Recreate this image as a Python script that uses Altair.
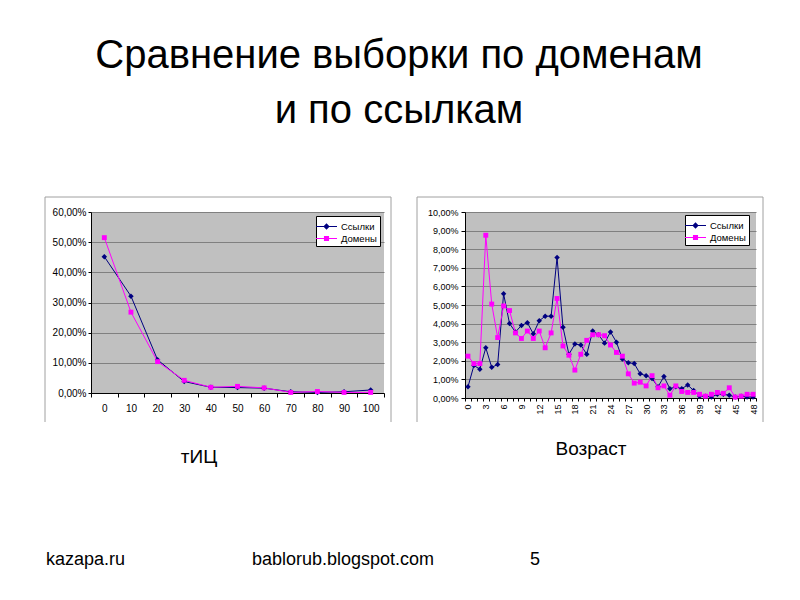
import altair as alt
import pandas as pd

# ---------------- data ----------------
title_lines = ["Сравнение выборки по доменам", "и по ссылкам"]
series_names = ["Ссылки", "Домены"]

tic_categories = [0, 10, 20, 30, 40, 50, 60, 70, 80, 90, 100]
tic_links = [45.2, 32.1, 11.0, 3.8, 1.9, 1.8, 1.6, 0.4, 0.2, 0.4, 1.0]
tic_domains = [51.5, 26.8, 10.4, 4.2, 1.9, 2.2, 1.7, 0.2, 0.5, 0.2, 0.2]

age_categories = list(range(49))
age_links = [0.6, 1.75, 1.55, 2.7, 1.65, 1.8, 5.6, 4.0, 3.55, 3.9,
             4.05, 3.45, 4.15, 4.4, 4.4, 7.55, 3.8, 2.35, 2.9, 2.85,
             2.35, 3.6, 3.4, 2.95, 3.55, 3.0, 2.1, 1.9, 1.85, 1.3,
             1.2, 1.05, 0.6, 1.15, 0.5, 0.6, 0.5, 0.7, 0.4, 0.1,
             0.1, 0.05, 0.2, 0.2, 0.15, 0.05, 0.1, 0.05, 0.05]
age_domains = [2.25, 1.85, 1.85, 8.75, 5.05, 3.25, 4.95, 4.7, 3.5, 3.2,
               3.6, 3.2, 3.6, 2.7, 3.5, 5.35, 2.8, 2.3, 1.5, 2.35,
               3.1, 3.4, 3.4, 3.35, 2.85, 2.45, 2.25, 1.3, 0.8, 0.85,
               0.65, 1.2, 0.55, 0.65, 0.15, 0.65, 0.35, 0.3, 0.3, 0.2,
               0.1, 0.2, 0.3, 0.25, 0.55, 0.05, 0.1, 0.2, 0.2]

tic_y_ticks = [0, 10, 20, 30, 40, 50, 60]
age_y_ticks = [0, 1, 2, 3, 4, 5, 6, 7, 8, 9, 10]

left_caption = "тИЦ"
right_caption = "Возраст"
footer_left = "kazapa.ru"
footer_center = "bablorub.blogspot.com"
footer_page = "5"

# ---------------- styles ----------------
FONT = "Liberation Sans"
NAVY = "#000080"
MAGENTA = "#FF00FF"
PLOT_BG = "#C0C0C0"
GRID = "#808080"
FRAME = "#A0A0A0"
SERIES_COLORS = [NAVY, MAGENTA]
SERIES_SHAPES = ["diamond", "square"]

# legend symbols: a short line with the marker on it (filled paths only)
LEGEND_PATHS = [
    "M-1.4,-0.07H1.4V0.07H-1.4ZM0,-0.42L0.42,0L0,0.42L-0.42,0Z",
    "M-1.4,-0.07H1.4V0.07H-1.4ZM-0.34,-0.34H0.34V0.34H-0.34Z",
]

pct_expr = "replace(format(datum.value, '.2f'), '.', ',') + '%'"


def long_frame(cats, links, domains):
    return pd.DataFrame({
        "cat": list(cats) * 2,
        "series": [series_names[0]] * len(cats) + [series_names[1]] * len(cats),
        "value": list(links) + list(domains),
    })


def make_legend(lx, ly):
    return alt.Legend(
        title=None, orient="none", legendX=lx, legendY=ly,
        fillColor="white", strokeColor="black", padding=3,
        labelFont=FONT, labelFontSize=9.5, labelColor="black", labelOffset=7,
        symbolSize=225, symbolStrokeWidth=0, symbolOpacity=1, rowPadding=0,
    )


def text_layer(text, x, y, size, align="center"):
    return alt.Chart(pd.DataFrame({"t": [text]})).mark_text(
        font=FONT, fontSize=size, align=align, baseline="alphabetic", color="black"
    ).encode(text="t:N", x=alt.value(x), y=alt.value(y))


def frame_layers(x1, x2, y1, y2):
    one = pd.DataFrame({"k": [0]})
    base = alt.Chart(one).mark_rule(color=FRAME, strokeWidth=1)
    return [
        base.encode(x=alt.value(x1), y=alt.value(y1), y2=alt.value(y2)),
        base.encode(x=alt.value(x2), y=alt.value(y1), y2=alt.value(y2)),
        base.encode(x=alt.value(x1), x2=alt.value(x2), y=alt.value(y1)),
    ]


def panel_layers(cats, links, domains, ymax, xaxis, yaxis, legend):
    df = long_frame(cats, links, domains)
    x = alt.X("cat:O", title=None, bandPosition=0.5,
              scale=alt.Scale(type="band", paddingInner=0, paddingOuter=0), axis=xaxis)
    y = alt.Y("value:Q", title=None, scale=alt.Scale(domain=[0, ymax], nice=False), axis=yaxis)
    layers = []
    for name, col in zip(series_names, SERIES_COLORS):
        layers.append(
            alt.Chart(df).transform_filter(alt.datum.series == name).mark_line(
                strokeWidth=1, color=col).encode(x=x, y=y)
        )
    for name, col, shp in zip(series_names, SERIES_COLORS, SERIES_SHAPES):
        layers.append(
            alt.Chart(df).transform_filter(alt.datum.series == name).mark_point(
                filled=True, opacity=1, strokeWidth=0, shape=shp, color=col,
                size=30 if shp == "diamond" else 24,
            ).encode(x=x, y=y)
        )
    # invisible layer that only carries the legend
    legend_layer = alt.Chart(df).mark_point(filled=True, opacity=0).encode(
        x=x, y=y,
        color=alt.Color("series:N", scale=alt.Scale(domain=series_names, range=SERIES_COLORS),
                        legend=legend, sort=series_names),
        shape=alt.Shape("series:N", scale=alt.Scale(domain=series_names, range=LEGEND_PATHS),
                        legend=legend, sort=series_names),
    )
    layers.append(legend_layer)
    return layers


left_xaxis = alt.Axis(labelFont=FONT, labelFontSize=10, labelColor="black", tickBand="extent",
                      tickSize=4, labelPadding=6, labelAngle=0, domainColor="black", tickColor="black",
                      grid=False)
left_yaxis = alt.Axis(values=tic_y_ticks, labelExpr=pct_expr, labelFont=FONT, labelFontSize=10,
                      labelColor="black", tickSize=3, labelPadding=2, domainColor="black",
                      tickColor="black", grid=True, gridColor=GRID, gridWidth=1)

right_xaxis = alt.Axis(labelFont=FONT, labelFontSize=9, labelColor="black", tickBand="extent",
                       tickSize=3, labelPadding=3, labelAngle=270, labelOverlap=False,
                       labelExpr="datum.value % 3 == 0 ? datum.value : ''",
                       domainColor="black", tickColor="black", grid=False)
right_yaxis = alt.Axis(values=age_y_ticks, labelExpr=pct_expr, labelFont=FONT, labelFontSize=9,
                       labelColor="black", tickSize=4, labelPadding=3, domainColor="black",
                       tickColor="black", grid=True, gridColor=GRID, gridWidth=1)

left = alt.layer(
    *frame_layers(-46, 300, -15, 210),
    *panel_layers(tic_categories, tic_links, tic_domains, 60, left_xaxis, left_yaxis, make_legend(225, 4)),
    text_layer(title_lines[0], 308, -144, 40),
    text_layer(title_lines[1], 308, -89, 40),
    text_layer(left_caption, 108, 251, 19),
    text_layer(footer_left, -45, 353, 18, "left"),
    text_layer(footer_center, 252, 353, 18),
).properties(width=293, height=181)

right = alt.layer(
    *frame_layers(-48, 298, -15, 210),
    *panel_layers(age_categories, age_links, age_domains, 10, right_xaxis, right_yaxis, make_legend(220, 3)),
    text_layer(right_caption, 126, 243, 19),
    text_layer(footer_page, 70, 353, 18),
).properties(width=291, height=186)

chart = alt.hconcat(left, right, spacing=81, bounds="flush").resolve_scale(
    color="independent", shape="independent", x="independent", y="independent"
).resolve_legend(color="independent", shape="independent").properties(
    padding={"left": 36, "top": 28, "right": 5, "bottom": 5},
    background="white",
).configure_view(fill=PLOT_BG, strokeWidth=0)

chart.save("out.html", embed_options={"renderer": "svg", "actions": False})
